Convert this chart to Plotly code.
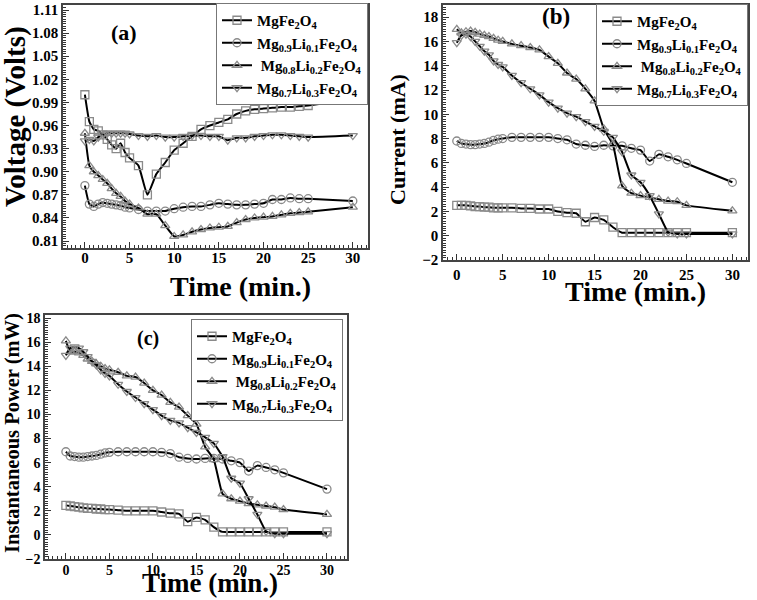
import plotly.graph_objects as go

W, H = 757, 600

time_min = [0, 0.5, 1, 1.5, 2, 2.5, 3, 3.5, 4, 4.5, 5, 6, 7, 8, 9, 10, 11, 12, 13, 14, 15,
            16, 17, 18, 19, 20, 21, 22, 23, 24, 25, 30]

series_names = ["MgFe<sub>2</sub>O<sub>4</sub>",
                "Mg<sub>0.9</sub>Li<sub>0.1</sub>Fe<sub>2</sub>O<sub>4</sub>",
                " Mg<sub>0.8</sub>Li<sub>0.2</sub>Fe<sub>2</sub>O<sub>4</sub>",
                "Mg<sub>0.7</sub>Li<sub>0.3</sub>Fe<sub>2</sub>O<sub>4</sub>"]

# (a) Voltage (Volts)
voltage_mg = [1.000, 0.965, 0.955, 0.953, 0.948, 0.942, 0.935, 0.930, 0.937, 0.925, 0.918,
              0.908, 0.870, 0.897, 0.912, 0.928, 0.937, 0.946, 0.955, 0.960, 0.964, 0.968,
              0.975, 0.979, 0.981, 0.982, 0.983, 0.984, 0.984, 0.985, 0.986, 0.994]
voltage_li1 = [0.882, 0.858, 0.855, 0.858, 0.860, 0.859, 0.858, 0.857, 0.856, 0.854, 0.853,
               0.851, 0.849, 0.849, 0.849, 0.852, 0.854, 0.855, 0.855, 0.857, 0.859, 0.858,
               0.857, 0.857, 0.858, 0.859, 0.864, 0.864, 0.866, 0.865, 0.865, 0.862]
voltage_li2 = [0.950, 0.908, 0.900, 0.895, 0.890, 0.885, 0.878, 0.872, 0.868, 0.862, 0.858,
               0.853, 0.845, 0.845, 0.830, 0.816, 0.818, 0.822, 0.825, 0.827, 0.828, 0.829,
               0.834, 0.838, 0.840, 0.841, 0.842, 0.844, 0.846, 0.847, 0.848, 0.854]
voltage_li3 = [0.940, 0.942, 0.940, 0.945, 0.948, 0.950, 0.950, 0.950, 0.950, 0.950, 0.949,
               0.947, 0.946, 0.947, 0.945, 0.945, 0.946, 0.947, 0.947, 0.946, 0.946, 0.941,
               0.944, 0.944, 0.946, 0.947, 0.948, 0.948, 0.947, 0.946, 0.945, 0.947]

# (b) Current (mA)
current_mg = [2.5, 2.5, 2.5, 2.45, 2.4, 2.4, 2.35, 2.35, 2.3, 2.3, 2.3,
              2.3, 2.25, 2.25, 2.2, 2.2, 2.0, 1.9, 1.85, 1.15, 1.5, 1.3,
              0.7, 0.25, 0.25, 0.25, 0.25, 0.25, 0.25, 0.25, 0.25, 0.25]
current_li1 = [7.8, 7.6, 7.55, 7.5, 7.5, 7.55, 7.6, 7.7, 7.85, 7.95, 8.0,
               8.1, 8.1, 8.1, 8.1, 8.1, 8.0, 7.9, 7.55, 7.45, 7.35, 7.45,
               7.4, 7.4, 7.2, 7.05, 6.15, 6.7, 6.5, 6.25, 5.95, 4.4]
current_li2 = [17.0, 16.7, 16.8, 16.85, 16.75, 16.6, 16.5, 16.4, 16.25, 16.1, 16.0,
               15.8, 15.65, 15.5, 15.3, 14.75, 14.2, 13.4, 12.9, 12.1, 11.1, 8.8,
               7.5, 4.1, 3.5, 3.3, 3.15, 3.0, 2.85, 2.8, 2.5, 2.05]
current_li3 = [15.9, 16.5, 16.6, 16.4, 16.0, 15.6, 15.2, 14.9, 14.4, 14.1, 13.9,
               13.2, 12.6, 12.1, 11.6, 11.0, 10.5, 10.1, 9.8, 9.4, 9.0, 8.6,
               8.1, 6.9, 5.0, 4.4, 3.3, 1.8, 0.3, 0.15, 0.15, 0.15]

# (c) Instantaneous Power (mW)
power_mg = [2.45, 2.4, 2.35, 2.3, 2.25, 2.2, 2.2, 2.15, 2.15, 2.1, 2.1,
            2.05, 2.0, 2.0, 2.0, 2.0, 1.9, 1.8, 1.75, 1.1, 1.45, 1.25,
            0.65, 0.25, 0.25, 0.25, 0.25, 0.25, 0.25, 0.25, 0.25, 0.25]
power_li1 = [6.9, 6.55, 6.5, 6.45, 6.45, 6.5, 6.55, 6.6, 6.7, 6.8, 6.85,
             6.9, 6.9, 6.9, 6.9, 6.9, 6.85, 6.75, 6.45, 6.35, 6.3, 6.35,
             6.35, 6.3, 6.15, 6.0, 5.3, 5.75, 5.6, 5.4, 5.15, 3.8]
power_li2 = [16.1, 15.2, 15.2, 15.1, 14.9, 14.6, 14.4, 14.2, 14.0, 13.8, 13.7,
             13.5, 13.2, 13.1, 12.6, 12.0, 11.6, 11.0, 10.6, 9.9, 9.2, 7.3,
             6.25, 3.4, 3.0, 2.8, 2.6, 2.5, 2.4, 2.3, 2.1, 1.7]
power_li3 = [14.9, 15.5, 15.6, 15.5, 15.2, 14.8, 14.4, 14.1, 13.7, 13.4, 13.2,
             12.5, 11.9, 11.4, 10.9, 10.4, 9.9, 9.5, 9.3, 8.9, 8.5, 8.1,
             7.6, 6.5, 4.7, 4.3, 3.0, 1.7, 0.3, 0.1, 0.1, 0.1]

panels = [
    dict(key="", leg="legend", ys=[voltage_mg, voltage_li1, voltage_li2, voltage_li3]),
    dict(key="2", leg="legend2", ys=[current_mg, current_li1, current_li2, current_li3]),
    dict(key="3", leg="legend3", ys=[power_mg, power_li1, power_li2, power_li3]),
]

symbols = ["square-open", "circle-open", "triangle-up-open", "triangle-down-open"]
FONT = "Liberation Serif"

fig = go.Figure()
for p in panels:
    for name, ys, sym in zip(series_names, p["ys"], symbols):
        fig.add_trace(go.Scatter(
            x=time_min, y=ys, name=name, mode="lines+markers",
            xaxis="x" + p["key"], yaxis="y" + p["key"], legend=p["leg"],
            line=dict(color="black", width=2, shape="spline", smoothing=0.4),
            marker=dict(symbol=sym, size=8, color="#8a8a8a", line=dict(width=1.3, color="#8a8a8a")),
        ))


def px_x(v):
    return v / W


def px_y(v):
    return 1 - v / H


def xaxis(l, r, anchor, rng, fs, standoff=0):
    return dict(domain=[px_x(l), px_x(r)], anchor=anchor, range=rng, automargin=False,
                tick0=0, dtick=5, ticks="inside", ticklen=6, tickwidth=1.3, tickcolor="#333",
                minor=dict(dtick=0.5, tick0=0, ticks="inside", ticklen=3, tickwidth=1, tickcolor="#333"),
                showline=True, linecolor="#444", linewidth=1.5, mirror=True,
                showgrid=False, zeroline=False, ticklabelstandoff=standoff,
                tickfont=dict(family=FONT, size=fs, color="black", weight="bold"))


def yaxis(t, b, anchor, rng, tick0, dtick, mdtick, fmt, fs):
    return dict(domain=[px_y(b), px_y(t)], anchor=anchor, range=rng, automargin=False,
                tick0=tick0, dtick=dtick, tickformat=fmt,
                ticks="inside", ticklen=6, tickwidth=1.3, tickcolor="#333",
                minor=dict(dtick=mdtick, tick0=tick0, ticks="inside", ticklen=3, tickwidth=1, tickcolor="#333"),
                showline=True, linecolor="#444", linewidth=1.5, mirror=True,
                showgrid=False, zeroline=False,
                tickfont=dict(family=FONT, size=fs, color="black", weight="bold"))


def legend(r, t):
    return dict(x=px_x(r), y=px_y(t), xanchor="right", yanchor="top",
                bgcolor="white", bordercolor="#777", borderwidth=1,
                font=dict(family=FONT, size=15, color="black", weight="bold"),
                tracegroupgap=0, itemwidth=30)


def ann(text, x, y, size, angle=0, yanchor="middle"):
    return dict(text=text, x=px_x(x), y=px_y(y), xref="paper", yref="paper",
                showarrow=False, textangle=angle, xanchor="center", yanchor=yanchor,
                font=dict(family=FONT, size=size, color="black", weight="bold"))


fig.update_layout(
    template="none",
    width=W, height=H, margin=dict(l=0, r=0, t=0, b=0, autoexpand=False),
    paper_bgcolor="white", plot_bgcolor="white", showlegend=True,
    xaxis=xaxis(63, 368, "y", [-2.45, 31.7], 15, -5),
    yaxis=yaxis(5, 248, "x", [0.801, 1.1165], 0.81, 0.03, 0.003, ".2f", 15),
    xaxis2=xaxis(443, 748, "y2", [-1.5, 31.7], 15),
    yaxis2=yaxis(5, 260, "x2", [-2, 19], 0, 2, 0.2, "d", 15),
    xaxis3=xaxis(45, 347, "y3", [-2.4, 32.3], 14, -3),
    yaxis3=yaxis(315, 559, "x3", [-2, 18.25], 0, 2, 0.2, "d", 14),
    legend=legend(368, 3),
    legend2=legend(748, 4),
    legend3=legend(343, 319),
    annotations=[
        ann("(a)", 124, 32, 22),
        ann("(b)", 556, 17, 23),
        ann("(c)", 148, 339, 20),
        ann("Time (min.)", 241, 286, 28),
        ann("Voltage (Volts)", 15, 117, 29, -90),
        ann("Time (min.)", 635, 291, 28),
        ann("Current (mA)", 397, 140, 22, -90),
        ann("Time (min.)", 210, 600, 27, yanchor="bottom"),
        ann("Instantaneous Power (mW)", 12, 433, 20.5, -90),
    ],
)

fig.write_html("out.html", config={"displayModeBar": False},
               post_script="document.body.style.margin='0';document.body.style.padding='0';")
